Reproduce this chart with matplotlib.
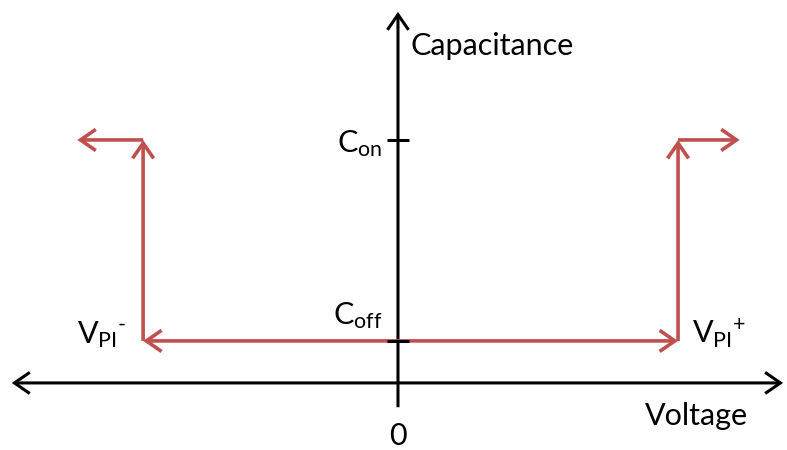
import matplotlib
matplotlib.use("Agg")
import matplotlib.pyplot as plt
from matplotlib.patches import FancyArrowPatch

plt.rcParams["font.family"] = ["Lato", "DejaVu Sans"]
plt.rcParams["mathtext.fontset"] = "custom"
plt.rcParams["mathtext.rm"] = "Lato"
plt.rcParams["mathtext.it"] = "Lato"

# ── Switching characteristic (normalised units: V_PI+ = 1, C_on = 1) ──────────
v_pi = [-0.91, 1.0]          # pull-in voltages (V_PI-, V_PI+)
v_end = [-1.145, 1.22]       # where the "stays on" arrows stop
c_off = 0.173
c_on = 1.0

# axis extents
v_axis = [-1.379, 1.375]
c_axis = [-0.10, 1.527]

RED = "#C0504D"
BLACK = "#000000"


def arrow(ax, p0, p1, color, lw, style="->"):
    a = FancyArrowPatch(p0, p1, arrowstyle=f"{style},head_length=0.55,head_width=0.38",
                        mutation_scale=20, color=color, lw=lw,
                        shrinkA=0, shrinkB=0, capstyle="butt", joinstyle="miter")
    ax.add_patch(a)


fig = plt.figure(figsize=(7.87, 4.5), dpi=100)
ax = fig.add_axes([0, 0, 1, 1])
ax.set_xlim(-1.421, 1.389)
ax.set_ylim(-0.276, 1.576)
ax.axis("off")

# axes
arrow(ax, (v_axis[0], 0), (v_axis[1], 0), BLACK, 2.2, "<->")
arrow(ax, (0, c_axis[0]), (0, c_axis[1]), BLACK, 2.2, "->")
for c in (c_off, c_on):
    ax.plot([-0.04, 0.04], [c, c], color=BLACK, lw=2.2, solid_capstyle="butt", zorder=3)

# red hysteresis path
arrow(ax, (v_pi[0], c_off), (v_pi[1], c_off), RED, 2.6, "<->")
for v, ve in zip(v_pi, v_end):
    arrow(ax, (v, c_off), (v, c_on), RED, 2.6)
    arrow(ax, (v, c_on), (ve, c_on), RED, 2.6)

fs = 22
ax.text(0.043, 1.35, "Capacitance", fontsize=fs, ha="left", va="baseline")
ax.text(-0.057, 0.951, r"$\mathregular{C_{on}}$", fontsize=fs, ha="right", va="baseline")
ax.text(-0.054, 0.243, r"$\mathregular{C_{off}}$", fontsize=fs, ha="right", va="baseline")
ax.text(-1.146, 0.165, r"$\mathregular{V_{PI}{}^{\text{-}}}$", fontsize=fs, ha="left", va="baseline")
ax.text(1.05, 0.165, r"$\mathregular{V_{PI}{}^{+}}$", fontsize=fs, ha="left", va="baseline")
ax.text(0, -0.255, "0", fontsize=fs, ha="center", va="baseline")
ax.text(0.882, -0.173, "Voltage", fontsize=fs, ha="left", va="baseline")

fig.savefig("out.png", dpi=100)
